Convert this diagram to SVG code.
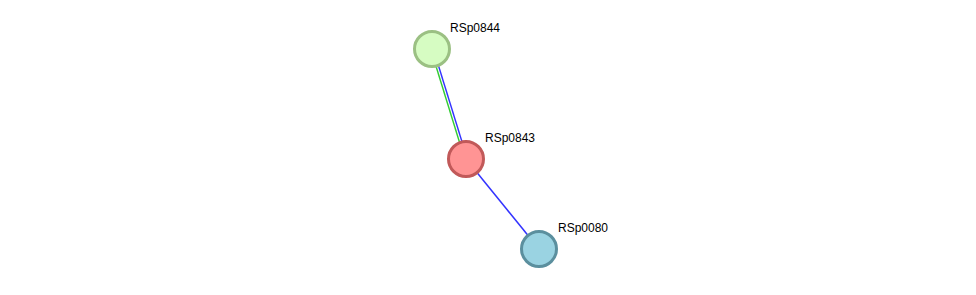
<svg xmlns="http://www.w3.org/2000/svg" width="976" height="295" viewBox="0 0 976 295">
<style>
.lbl{font-family:"Liberation Sans",Arial,sans-serif;font-size:12px;fill:#000}
.n{stroke-width:3}
</style>
<rect width="976" height="295" fill="#fff"/>
<g id="connectors" stroke-width="1.5" fill="none">
<line x1="430.8" y1="49.4" x2="464.8" y2="159.4" stroke="#33cc33"/>
<line x1="433.2" y1="48.6" x2="467.2" y2="158.6" stroke="#3333ff"/>
<line x1="466" y1="159" x2="539" y2="249" stroke="#3333ff"/>
</g>
<g id="RSp0844">
<circle class="n" cx="432" cy="49" r="17.5" fill="#d6fcc2" stroke="#9bc083"/>
<text class="lbl" x="450" y="32">RSp0844</text>
</g>
<g id="RSp0843">
<circle class="n" cx="466" cy="159" r="17.5" fill="#ff9494" stroke="#c15959"/>
<text class="lbl" x="485" y="142">RSp0843</text>
</g>
<g id="RSp0080">
<circle class="n" cx="539" cy="249" r="17.5" fill="#9ad3e2" stroke="#5b8f9e"/>
<text class="lbl" x="558" y="232">RSp0080</text>
</g>
</svg>
